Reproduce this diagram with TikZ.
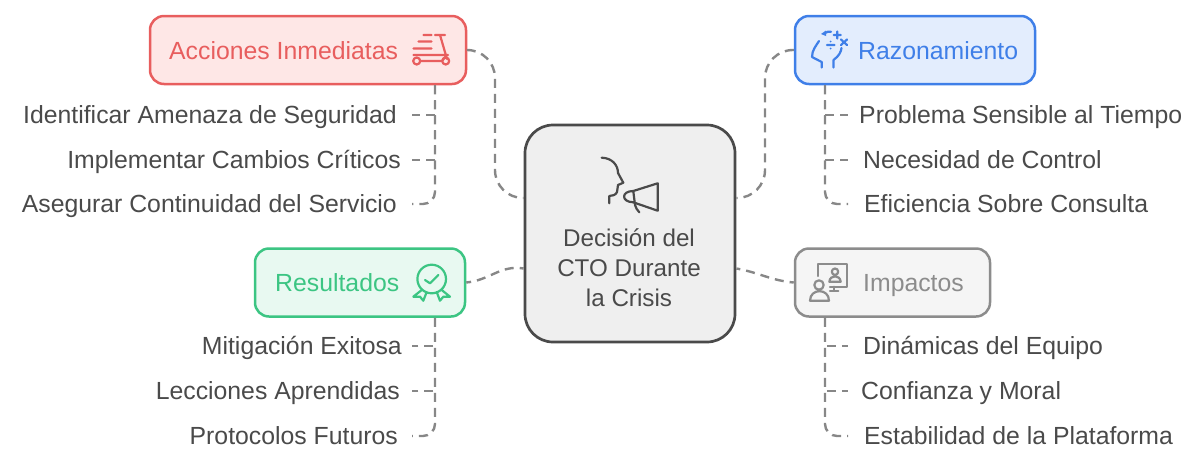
\documentclass[tikz,border=0pt]{standalone}
\usepackage{fontspec}
\setmainfont{Liberation Sans}
\definecolor{critRed}{HTML}{E85E5E}
\definecolor{critRedFill}{HTML}{FEE7E6}
\definecolor{critBlue}{HTML}{3F7FE8}
\definecolor{critBlueFill}{HTML}{E3EDFD}
\definecolor{critGreen}{HTML}{3CC583}
\definecolor{critGreenFill}{HTML}{E8F9F1}
\definecolor{critGrey}{HTML}{8C8C8C}
\definecolor{critGreyFill}{HTML}{F5F5F5}
\definecolor{critDark}{HTML}{4A4A4A}
\definecolor{critDarkFill}{HTML}{EFEFEF}
\definecolor{critLink}{HTML}{878787}

\begin{document}
\begin{tikzpicture}[
    x=1pt,y=-1pt,
    every node/.style={font=\fontsize{24.8}{30}\selectfont,text=critDark,inner sep=0pt},
    topicbox/.style={draw,line width=2.5pt,rounded corners=14pt,minimum height=68pt},
    itemleft/.style={anchor=base east},
    itemright/.style={anchor=base west},
    link/.style={draw=critLink,line width=2.4pt,dash pattern=on 9pt off 6pt},
    icon/.style={line width=2.2pt,line cap=round,line join=round},
  ]
  \useasboundingbox (0,0) rectangle (1200,467);

  % Central box
  \node[draw=critDark,fill=critDarkFill,line width=2.7pt,rounded corners=28pt,
    minimum width=210pt,minimum height=217pt] (central) at (630,233.5) {};
  \node[align=center,font=\fontsize{24.2}{30}\selectfont] (centralText) at (629,268) {Decisión del\\CTO Durante\\la Crisis};

  % Topic boxes
  \node[topicbox,draw=critRed,fill=critRedFill,minimum width=316pt] (accion) at (308,50) {};
  \node[topicbox,draw=critBlue,fill=critBlueFill,minimum width=240pt] (razon) at (915,50) {};
  \node[topicbox,draw=critGreen,fill=critGreenFill,minimum width=210pt] (result) at (360,282.5) {};
  \node[topicbox,draw=critGrey,fill=critGreyFill,minimum width=195pt] (impacto) at (892.5,282.5) {};
  \node[anchor=base west,text=critRed] (accionText) at (169,59) {Acciones Inmediatas};
  \node[anchor=base west,text=critBlue] (razonText) at (858,59) {Razonamiento};
  \node[anchor=base west,text=critGreen] (resultText) at (275,291) {Resultados};
  \node[anchor=base west,text=critGrey] (impactoText) at (863,291) {Impactos};

  % Items
  \node[itemleft] (accionA) at (397,123) {Identificar Amenaza de Seguridad};
  \node[itemleft] (accionB) at (401,168) {Implementar Cambios Críticos};
  \node[itemleft] (accionC) at (397,212) {Asegurar Continuidad del Servicio};
  \node[itemright] (razonA) at (859,123) {Problema Sensible al Tiempo};
  \node[itemright] (razonB) at (863,168) {Necesidad de Control};
  \node[itemright] (razonC) at (864,212) {Eficiencia Sobre Consulta};
  \node[itemleft] (resultA) at (402,354) {Mitigación Exitosa};
  \node[itemleft] (resultB) at (400,399) {Lecciones Aprendidas};
  \node[itemleft] (resultC) at (398,444) {Protocolos Futuros};
  \node[itemright] (impactoA) at (863,354) {Dinámicas del Equipo};
  \node[itemright] (impactoB) at (861,399) {Confianza y Moral};
  \node[itemright] (impactoC) at (864,444) {Estabilidad de la Plataforma};

  % Links to the central box
  \draw[link,rounded corners=28pt] (accion.east) -| (495,125) |- ([yshift=35.5pt]central.west);
  \draw[link,rounded corners=28pt] (razon.west) -| (765,125) |- ([yshift=35.5pt]central.east);
  \draw[link,dash phase=5pt] ([yshift=-35pt]central.west) to[out=170,in=5] (result.east);
  \draw[link,dash phase=5pt] ([yshift=-35pt]central.east) to[out=-10,in=175] (impacto.west);

  % Links to the items
  \draw[link] ([xshift=127pt]accion.south) |- ([xshift=15pt,yshift=8pt]accionA.base east);
  \draw[link] ([xshift=127pt]accion.south) |- ([xshift=11pt,yshift=8pt]accionB.base east);
  \draw[link,rounded corners=12pt] ([xshift=127pt]accion.south) |- ([xshift=15pt,yshift=8pt]accionC.base east);
  \draw[link] ([xshift=-90pt]razon.south) |- ([xshift=-11pt,yshift=8pt]razonA.base west);
  \draw[link] ([xshift=-90pt]razon.south) |- ([xshift=-15pt,yshift=8pt]razonB.base west);
  \draw[link,rounded corners=12pt] ([xshift=-90pt]razon.south) |- ([xshift=-16pt,yshift=8pt]razonC.base west);
  \draw[link] ([xshift=75pt]result.south) |- ([xshift=10pt,yshift=8pt]resultA.base east);
  \draw[link] ([xshift=75pt]result.south) |- ([xshift=12pt,yshift=8pt]resultB.base east);
  \draw[link,rounded corners=12pt] ([xshift=75pt]result.south) |- ([xshift=14pt,yshift=8pt]resultC.base east);
  \draw[link] ([xshift=-67.5pt]impacto.south) |- ([xshift=-15pt,yshift=8pt]impactoA.base west);
  \draw[link] ([xshift=-67.5pt]impacto.south) |- ([xshift=-13pt,yshift=8pt]impactoB.base west);
  \draw[link,rounded corners=12pt] ([xshift=-67.5pt]impacto.south) |- ([xshift=-16pt,yshift=8pt]impactoC.base west);

  % Scooter icon
  \draw[icon,critRed] (435,35) -- (445,35) (440,35) -- (447,59)
    (423.5,35) -- (431.5,35) (418.5,41.5) -- (431.5,41.5) (413.5,48.5) -- (431.5,48.5)
    (413.5,55) -- (448,55) (420.5,61) -- (442,61) (442,61) -- (447,55);
  \draw[icon,critRed] (416.7,61) circle (3.5pt) (445.7,61) circle (3.5pt);

  % Head with operations icon
  \draw[icon,critBlue] (821.7,67.5) -- (821.7,62) -- (812,57) .. controls (812,50) and (816,46) .. (819,41)
    (825,33) .. controls (827,31.5) and (829,31.5) .. (831,31.7)
    (833.5,67.5) -- (833.5,60) .. controls (839,56) and (841,52) .. (841.5,48)
    (837.3,31.5) -- (837.3,38.5) (833.8,35) -- (840.8,35)
    (841,39.5) -- (847,45) (847,39.5) -- (841,45)
    (827,45) -- (834.5,45);
  \fill[critBlue] (830.7,41.5) circle (1pt) (830.7,48.5) circle (1pt) (821,34) -- (826,30.5) -- (826,36) -- cycle;

  % Speaker icon
  \draw[icon,critDark] (601.7,157.7) .. controls (612,158) and (618,165) .. (618,173)
    -- (623.3,182.7) -- (618,185) -- (617,192) .. controls (616,195) and (612,196) .. (609.3,196) -- (609.3,203.3);
  \draw[icon,critDark] (657.7,183.3) -- (657.7,210.7) -- (633.3,202.3) .. controls (621,202) and (621,191) .. (633.3,191) -- cycle
    (633.3,191) -- (635,205) .. controls (636,208) and (637,210) .. (639.3,212.3);

  % Monitor with people icon
  \draw[icon,critGrey] (818.3,276) -- (818.3,264.3) -- (847.3,264.3) -- (847.3,286.7) -- (830,286.7)
    (834,286.7) -- (834,290.7) (830,290.7) -- (838.3,290.7);
  \draw[icon,critGrey] (835,271.7) circle (3.2pt)
    (829.3,281.7) .. controls (830,274.5) and (840,274.5) .. (840.7,281.7) -- cycle;
  \draw[icon,critGrey] (819,285) circle (4.7pt)
    (810,300.7) .. controls (810,288) and (829,288) .. (829,300.7) -- cycle;

  % Award icon
  \draw[icon,critGreen] (431.7,279) circle (14.3pt)
    (425,280) -- (430,283.3) -- (438.3,275)
    (421.7,290) -- (413.3,296.7) -- (420,296.7) -- (423.3,300.7) -- (426.7,292)
    (441.7,290) -- (450,296.7) -- (443.3,296.7) -- (440,300.7) -- (436.7,292);
\end{tikzpicture}
\end{document}
